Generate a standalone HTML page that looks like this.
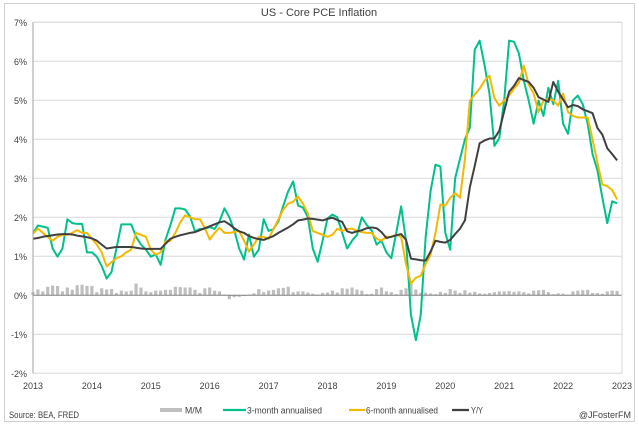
<!DOCTYPE html>
<html><head><meta charset="utf-8"><style>
html,body{margin:0;padding:0;background:#fff;}
svg{display:block;font-family:"Liberation Sans",Arial,sans-serif;}
</style></head><body>
<svg id="chart" width="639" height="426" viewBox="0 0 639 426">
<rect x="4.5" y="3.5" width="630" height="418" fill="#fff" stroke="#d0d0d0"/>
<text x="319" y="16" font-size="11" text-anchor="middle" fill="#404040">US - Core PCE Inflation</text>
<g id="grid"></g><g id="bars"></g><g id="lines"></g><g id="axes"></g>
<g font-size="9" fill="#404040">
<rect x="160" y="408" width="22" height="4" fill="#bfbfbf"/>
<text x="185" y="413.5" textLength="17" lengthAdjust="spacingAndGlyphs">M/M</text>
<line x1="223" y1="410" x2="246" y2="410" stroke="#00c08b" stroke-width="2.2"/>
<text x="247" y="413.5" textLength="75" lengthAdjust="spacingAndGlyphs">3-month annualised</text>
<line x1="349" y1="410" x2="365" y2="410" stroke="#f5b800" stroke-width="2.2"/>
<text x="366" y="413.5" textLength="72" lengthAdjust="spacingAndGlyphs">6-month annualised</text>
<line x1="452" y1="410" x2="469" y2="410" stroke="#404040" stroke-width="2.2"/>
<text x="471" y="413.5" textLength="12" lengthAdjust="spacingAndGlyphs">Y/Y</text>
</g>
<text x="9" y="418" font-size="9" fill="#404040" textLength="70" lengthAdjust="spacingAndGlyphs">Source: BEA, FRED</text>
<text x="631" y="418" font-size="9" fill="#404040" text-anchor="end">@JFosterFM</text>
</svg>
<script>
const yTicks=[7,6,5,4,3,2,1,0,-1,-2];
const yearLabels=["2013","2014","2015","2016","2017","2018","2019","2020","2021","2022","2023"];
const mm=[0.08,0.15,0.1,0.22,0.25,0.24,0.1,0.2,0.14,0.26,0.27,0.24,0.24,0.08,0.18,0.15,0.16,0.06,0.12,0.1,0.12,0.3,0.2,0.1,0.08,0.12,0.12,0.14,0.14,0.22,0.21,0.2,0.2,0.14,0.06,0.18,0.2,0.12,0.1,0.02,-0.1,-0.05,-0.04,-0.02,0.02,0.05,0.16,0.08,0.12,0.14,0.18,0.19,0.22,0.08,0.1,0.1,0.07,0.04,0.02,0.06,0.07,0.12,0.07,0.18,0.17,0.2,0.15,0.12,0.03,0.04,0.16,0.2,0.1,0.08,0.03,0.14,0.18,0.3,0.15,0.06,0.07,0.05,0.03,0.09,0.06,0.16,0.12,0.06,0.13,0.07,0.09,0.05,0.04,0.06,0.08,0.1,0.1,0.11,0.09,0.1,0.08,0.05,0.12,0.13,0.14,0.08,0.03,0.05,0.04,0.02,0.1,0.12,0.13,0.14,0.06,0.06,0.04,0.1,0.12,0.11];
const m3=[1.6,1.79,1.76,1.73,1.2,0.99,1.2,1.95,1.85,1.83,1.83,1.1,1.1,0.99,0.75,0.43,0.6,1.2,1.82,1.82,1.82,1.5,1.3,1.17,0.99,1.05,0.78,1.43,1.8,2.23,2.23,2.2,2.02,1.64,1.7,1.7,1.75,1.7,1.9,2.23,2.0,1.67,1.2,0.92,1.56,0.99,1.17,1.95,1.65,1.7,1.9,2.3,2.67,2.92,2.3,2.25,2.0,1.2,0.86,1.4,1.97,2.07,2.0,1.6,1.2,1.4,1.55,2.0,1.8,1.66,1.3,1.4,1.1,0.95,1.6,2.28,1.4,-0.5,-1.15,-0.5,1.5,2.67,3.35,3.3,1.6,1.17,3.0,3.5,4.0,4.3,6.3,6.53,5.9,5.17,3.83,4.03,5.0,6.53,6.5,6.2,5.5,4.99,4.4,4.99,4.6,5.32,4.9,5.5,4.4,4.14,5.0,5.12,4.9,4.4,3.62,3.2,2.5,1.85,2.41,2.36];
const m6=[1.58,1.71,1.6,1.5,1.4,1.5,1.55,1.55,1.6,1.67,1.6,1.6,1.45,1.3,1.1,0.74,0.85,0.95,1.0,1.1,1.17,1.6,1.55,1.5,1.17,1.04,1.1,1.38,1.4,1.6,1.87,2.05,2.0,1.95,1.95,1.73,1.43,1.6,1.73,1.6,1.6,1.62,1.65,1.4,1.12,1.3,1.5,1.5,1.45,1.7,1.95,2.2,2.35,2.4,2.53,2.35,2.1,1.65,1.6,1.55,1.5,1.55,1.71,1.65,1.7,1.71,1.65,1.62,1.6,1.6,1.45,1.4,1.5,1.5,1.55,1.5,0.8,0.3,0.45,0.5,0.8,1.04,1.6,2.33,2.3,2.5,2.62,2.5,3.5,4.99,5.15,5.3,5.5,5.63,5.06,4.86,5.0,5.12,5.3,5.45,5.89,5.4,5.17,4.7,4.99,5.04,5.0,4.86,5.17,4.7,4.6,4.56,4.56,4.56,4.0,3.4,2.84,2.8,2.7,2.46];
const yy=[1.45,1.47,1.5,1.52,1.54,1.56,1.57,1.57,1.56,1.53,1.51,1.49,1.46,1.4,1.3,1.2,1.22,1.24,1.24,1.24,1.24,1.22,1.2,1.19,1.19,1.19,1.19,1.32,1.45,1.5,1.54,1.57,1.6,1.62,1.67,1.72,1.77,1.82,1.87,1.9,1.82,1.72,1.64,1.6,1.52,1.47,1.44,1.42,1.47,1.52,1.6,1.67,1.74,1.82,1.92,1.94,1.97,1.96,1.94,1.92,1.96,1.99,1.93,1.88,1.64,1.6,1.64,1.67,1.72,1.74,1.72,1.62,1.47,1.5,1.54,1.57,1.42,0.94,0.92,0.9,0.89,1.12,1.4,1.37,1.35,1.42,1.57,1.71,1.92,2.77,3.32,3.9,3.97,4.02,4.02,4.22,4.72,5.22,5.37,5.57,5.52,5.47,5.32,5.08,5.02,4.96,5.47,5.22,5.02,4.82,4.88,4.85,4.77,4.72,4.67,4.29,4.12,3.77,3.62,3.46];
const NS="http://www.w3.org/2000/svg";
const X0=33,X1=622,Y7=22.3,STEP=39;
function xs(i){return X0+(X1-X0)*i/120;}
function ys(v){return Y7+(7-v)*STEP;}
function mk(tag,attrs,parent){const e=document.createElementNS(NS,tag);for(const k in attrs)e.setAttribute(k,attrs[k]);parent.appendChild(e);return e;}
const grid=document.getElementById('grid'),axes=document.getElementById('axes');
yTicks.forEach(t=>{
  if(t!==0){const g=mk('line',{x1:X0,x2:X1,y1:ys(t),y2:ys(t),stroke:'#d9d9d9','stroke-width':1},grid);
  
  }
  const tx=mk('text',{x:27,y:ys(t)+3.5,'font-size':9,'text-anchor':'end',fill:'#404040'},axes);
  tx.textContent=t+'%';
  
  
});
yearLabels.forEach((l,i)=>{
  const tx=mk('text',{x:xs(i*12),y:389,'font-size':9,'text-anchor':'middle',fill:'#404040'},axes);
  tx.textContent=l;
  
  
});
const bars=document.getElementById('bars');
mm.forEach((v,i)=>{
  const y0=ys(0),y1=ys(v);
  const r=mk('rect',{x:xs(i)-1.6,y:Math.min(y0,y1),width:3.2,height:Math.max(0.5,Math.abs(y1-y0)),fill:'#bfbfbf'},bars);
  
  
});
const zl=mk('line',{x1:X0,x2:X1,y1:ys(0),y2:ys(0),stroke:'#808080','stroke-width':1},axes);


const ya=mk('line',{x1:X0,x2:X0,y1:Y7,y2:ys(-2),stroke:'#a0a0a0','stroke-width':1},axes);


const ra=mk('line',{x1:X1,x2:X1,y1:Y7,y2:ys(-2),stroke:'#d9d9d9','stroke-width':1},axes);


const ta=mk('line',{x1:X0,x2:X1,y1:Y7,y2:Y7,stroke:'#d9d9d9','stroke-width':1},axes);


const lines=document.getElementById('lines');
function series(arr,color,name){
  const d=arr.map((v,i)=>(i?'L':'M')+xs(i).toFixed(2)+' '+ys(v).toFixed(2)).join(' ');
  const p=mk('path',{d:d,fill:'none',stroke:color,'stroke-width':2,'stroke-linejoin':'round'},lines);
  
  
}
series(m3,'#00c08b','line-3-month');
series(m6,'#f5b800','line-6-month');
series(yy,'#404040','line-yy');
</script>
</body></html>
